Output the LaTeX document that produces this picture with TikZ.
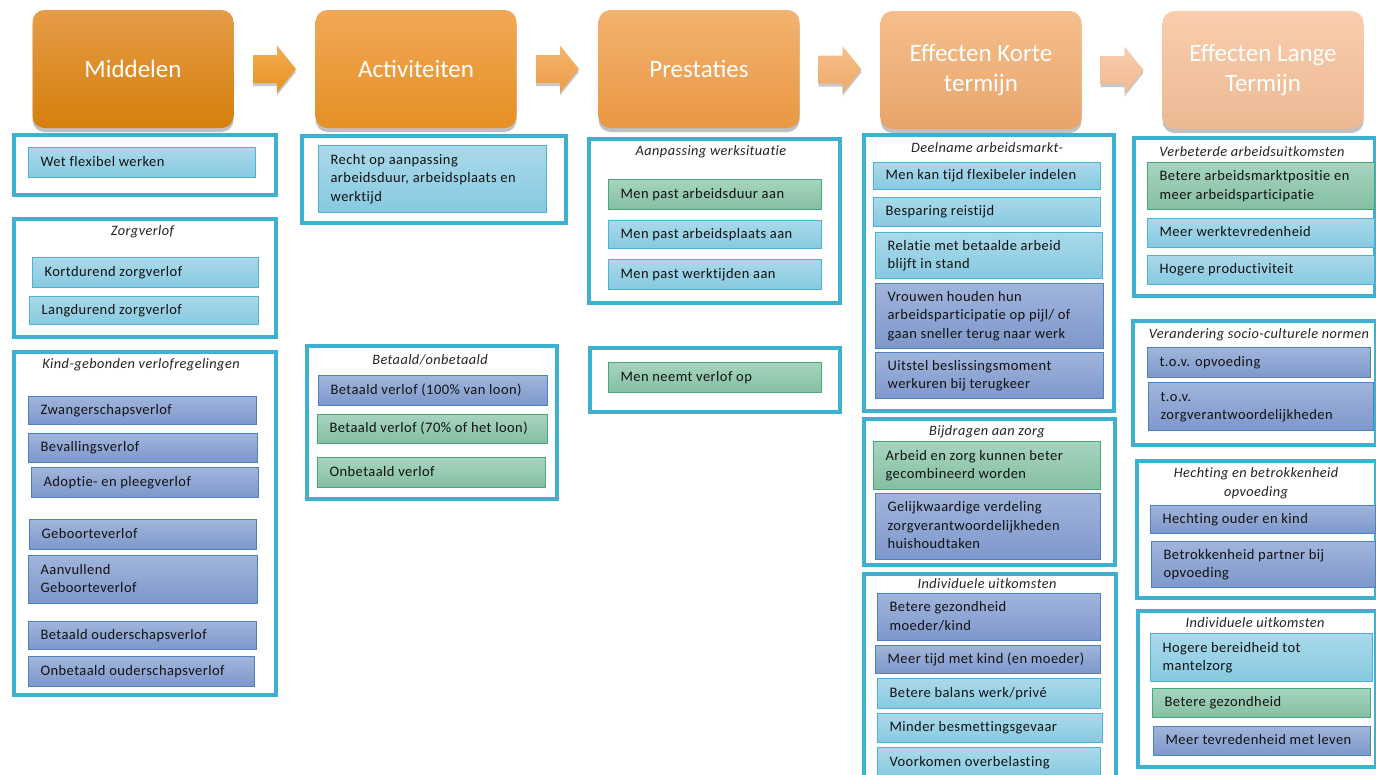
\documentclass[tikz,border=0pt]{standalone}
\usepackage{fontspec}
\setmainfont{Carlito}
\newfontfamily\itemfont{Carlito}[LetterSpace=3,Ligatures=NoCommon]
\usetikzlibrary{shadows,calc}
\definecolor{frm}{RGB}{62,177,209}
\definecolor{lbA}{RGB}{170,217,234}\definecolor{lbB}{RGB}{134,201,225}\definecolor{lbD}{RGB}{80,178,210}
\definecolor{sbA}{RGB}{160,181,220}\definecolor{sbB}{RGB}{126,151,203}\definecolor{sbD}{RGB}{79,129,189}
\definecolor{gnA}{RGB}{166,212,190}\definecolor{gnB}{RGB}{132,191,162}\definecolor{gnD}{RGB}{72,168,124}
\definecolor{txt}{RGB}{18,18,18}
\definecolor{ttlc}{RGB}{35,35,35}
\definecolor{hAt}{RGB}{230,156,72}\definecolor{hAb}{RGB}{213,128,12}
\definecolor{aAt}{RGB}{242,172,80}\definecolor{aAb}{RGB}{232,146,34}
\definecolor{hBt}{RGB}{241,168,86}\definecolor{hBb}{RGB}{228,144,36}
\definecolor{aBt}{RGB}{245,180,110}\definecolor{aBb}{RGB}{236,156,72}
\definecolor{hCt}{RGB}{243,178,112}\definecolor{hCb}{RGB}{233,151,66}
\definecolor{aCt}{RGB}{247,192,140}\definecolor{aCb}{RGB}{238,168,104}
\definecolor{hDt}{RGB}{246,190,140}\definecolor{hDb}{RGB}{232,164,106}
\definecolor{aDt}{RGB}{249,206,172}\definecolor{aDb}{RGB}{240,184,144}
\definecolor{hEt}{RGB}{249,206,172}\definecolor{hEb}{RGB}{236,184,148}
\tikzset{
 itm/.style={draw, line width=1.2pt, rectangle, inner xsep=12pt, inner ysep=1pt,
   font=\itemfont\fontsize{14.5}{18.5}\selectfont, text=txt},
 lb/.style={itm, draw=lbD, top color=lbA, bottom color=lbB},
 sb/.style={itm, draw=sbD, top color=sbA, bottom color=sbB},
 gn/.style={itm, draw=gnD, top color=gnA, bottom color=gnB},
 frame/.style={draw=frm, line width=4pt, fill=white, rectangle, inner sep=0pt},
 ttl/.style={font=\itemfont\fontsize{14.3}{19}\itshape\selectfont, text=ttlc, inner sep=0pt, align=center},
 hdr/.style={rectangle, rounded corners=12pt, text=white, font=\fontsize{25}{30}\selectfont,
   align=center, minimum width=201pt, minimum height=118pt, inner sep=0pt,
   drop shadow={shadow xshift=0pt, shadow yshift=-4pt, opacity=0.35, fill=black!70}},
 harrow/.style={drop shadow={shadow xshift=0pt, shadow yshift=-3pt, opacity=0.3, fill=black!70}},
}
\newcommand\itembox[7]{%
 \pgfmathsetmacro\myW{#5-#3-24}\pgfmathsetmacro\myH{#6-#4}%
 \node[#1, anchor=north west, minimum height=\myH pt] (#2) at (#3,#4)
   {\makebox[\myW pt][l]{\begin{tabular}{@{}l@{}}#7\end{tabular}}};}
\newcommand\frmbox[5]{%
 \pgfmathsetmacro\myW{#4-#2}\pgfmathsetmacro\myH{#5-#3}%
 \node[frame, anchor=north west, minimum width=\myW pt, minimum height=\myH pt] (#1) at (#2,#3) {};}
\newcommand\hdrarrow[4]{%
 \coordinate (#1) at ($(#2.east)!0.5!(#3.west)$);
 \path[harrow, #4, shift={(#1)}] (-21.5,-14) -- (2.5,-14) -- (2.5,-23.5) -- (21.5,0)
   -- (2.5,23.5) -- (2.5,14) -- (-21.5,14) -- cycle;}
\begin{document}
\begin{tikzpicture}[x=1pt,y=-1pt]
\useasboundingbox (0,0) rectangle (1376,774);
\clip (0,0) rectangle (1376,774);
\fill[white] (0,0) rectangle (1376,774);
% headers
\node[hdr, top color=hAt, bottom color=hAb] (h1) at (133,69) {Middelen};
\node[hdr, top color=hBt, bottom color=hBb] (h2) at (416,69) {Activiteiten};
\node[hdr, top color=hCt, bottom color=hCb] (h3) at (699,69) {Prestaties};
\node[hdr, top color=hDt, bottom color=hDb] (h4) at (981,70) {Effecten Korte\\termijn};
\node[hdr, top color=hEt, bottom color=hEb] (h5) at (1263,70) {Effecten Lange\\Termijn};
\hdrarrow{a1}{h1}{h2}{top color=aAt, bottom color=aAb}
\hdrarrow{a2}{h2}{h3}{top color=aBt, bottom color=aBb}
\hdrarrow{a3}{h3}{h4}{top color=aCt, bottom color=aCb}
\hdrarrow{a4}{h4}{h5}{top color=aDt, bottom color=aDb}
% column 1
\frmbox{fA}{12}{133}{274}{193}
\itembox{lb}{wfw}{28}{147}{255}{177}{Wet flexibel werken}
\frmbox{fB}{12}{217}{274}{335}
\node[ttl] (tB) at (142.5,232) {Zorgverlof};
\itembox{lb}{kz}{32}{257}{258}{287}{Kortdurend zorgverlof}
\itembox{lb}{lz}{29}{296}{258}{324}{Langdurend zorgverlof}
\frmbox{fC}{12}{350}{274}{693}
\node[ttl] (tC) at (141,365) {Kind-gebonden verlofregelingen};
\itembox{sb}{c1}{28}{396}{256}{424}{Zwangerschapsverlof}
\itembox{sb}{c2}{28}{433}{257}{462}{Bevallingsverlof}
\itembox{sb}{c3}{31}{467}{258}{497}{Adoptie- en pleegverlof}
\itembox{sb}{c4}{29}{519}{256}{549}{Geboorteverlof}
\itembox{sb}{c5}{28}{555}{257}{603}{Aanvullend\\Geboorteverlof}
\itembox{sb}{c6}{28}{621}{256}{649}{Betaald ouderschapsverlof}
\itembox{sb}{c7}{28}{656}{254}{686}{Onbetaald ouderschapsverlof}
% column 2
\frmbox{fD}{300}{134}{564}{221}
\itembox{lb}{rec}{318}{145}{546}{212}{Recht op aanpassing\\arbeidsduur, arbeidsplaats en\\werktijd}
\frmbox{fE}{305}{344}{555}{497}
\node[ttl] (tE) at (430,360) {Betaald/onbetaald};
\itembox{sb}{b100}{318}{375}{547}{405}{Betaald verlof (100\% van loon)}
\itembox{gn}{b70}{317}{414}{547}{443}{Betaald verlof (70\% of het loon)}
\itembox{gn}{onb}{317}{457}{545}{487}{Onbetaald verlof}
% column 3
\frmbox{fF}{587}{137}{838}{301}
\node[ttl] (tF) at (711,152) {Aanpassing werksituatie};
\itembox{gn}{pad}{608}{179}{821}{209}{Men past arbeidsduur aan}
\itembox{lb}{pap}{608}{220}{821}{248}{Men past arbeidsplaats aan}
\itembox{lb}{pwt}{608}{259}{821}{289}{Men past werktijden aan}
\frmbox{fG}{588}{346}{838}{410}
\itembox{gn}{nvo}{608}{362}{821}{392}{Men neemt verlof op}
% column 4
\frmbox{fH}{862}{133}{1112}{409}
\node[ttl] (tH) at (987,148) {Deelname arbeidsmarkt-};
\itembox{lb}{k1}{873}{162}{1100}{189}{Men kan tijd flexibeler indelen}
\itembox{lb}{k2}{873}{197}{1100}{226}{Besparing reistijd}
\itembox{lb}{k3}{875}{232}{1102}{278}{Relatie met betaalde arbeid\\blijft in stand}
\itembox{sb}{k4}{875}{283}{1103}{348}{Vrouwen houden hun\\arbeidsparticipatie op pijl/ of\\gaan sneller terug naar werk}
\itembox{sb}{k5}{875}{352}{1103}{398}{Uitstel beslissingsmoment\\werkuren bij terugkeer}
\frmbox{fI}{862}{417}{1113}{563}
\node[ttl] (tI) at (987,432) {Bijdragen aan zorg};
\itembox{gn}{k6}{873}{441}{1100}{489}{Arbeid en zorg kunnen beter\\gecombineerd worden}
\itembox{sb}{k7}{875}{493}{1100}{559}{Gelijkwaardige verdeling\\zorgverantwoordelijkheden\\huishoudtaken}
\frmbox{fJ}{862}{572}{1114}{800}
\node[ttl] (tJ) at (987,584) {Individuele uitkomsten};
\itembox{sb}{k8}{877}{593}{1100}{640}{Betere gezondheid\\moeder/kind}
\itembox{sb}{k9}{875}{645}{1100}{673}{Meer tijd met kind (en moeder)}
\itembox{lb}{k10}{877}{678}{1100}{708}{Betere balans werk/privé}
\itembox{lb}{k11}{877}{713}{1102}{742}{Minder besmettingsgevaar}
\itembox{lb}{k12}{877}{747}{1100}{778}{Voorkomen overbelasting}
% column 5
\frmbox{fK}{1132}{136}{1373}{294}
\node[ttl] (tK) at (1252,152) {Verbeterde arbeidsuitkomsten};
\itembox{gn}{l1}{1147}{162}{1374}{209}{Betere arbeidsmarktpositie en\\meer arbeidsparticipatie}
\itembox{lb}{l2}{1147}{218}{1374}{247}{Meer werktevredenheid}
\itembox{lb}{l3}{1147}{255}{1374}{284}{Hogere productiviteit}
\frmbox{fL}{1131}{319}{1374}{443}
\node[ttl] (tL) at (1259,335) {Verandering socio-culturele normen};
\itembox{sb}{l4}{1147}{347}{1370}{377}{t.o.v. opvoeding}
\itembox{sb}{l5}{1148}{382}{1373}{430}{t.o.v.\\zorgverantwoordelijkheden}
\frmbox{fM}{1135}{459}{1374}{596}
\node[ttl] (tM) at (1256,483) {Hechting en betrokkenheid\\opvoeding};
\itembox{sb}{l6}{1150}{505}{1375}{533}{Hechting ouder en kind}
\itembox{sb}{l7}{1151}{541}{1375}{587}{Betrokkenheid partner bij\\opvoeding}
\frmbox{fN}{1136}{609}{1374}{765}
\node[ttl] (tN) at (1255,623) {Individuele uitkomsten};
\itembox{lb}{l8}{1150}{633}{1372}{681}{Hogere bereidheid tot\\mantelzorg}
\itembox{gn}{l9}{1152}{688}{1370}{717}{Betere gezondheid}
\itembox{sb}{l10}{1153}{726}{1370}{755}{Meer tevredenheid met leven}
\end{tikzpicture}
\end{document}
